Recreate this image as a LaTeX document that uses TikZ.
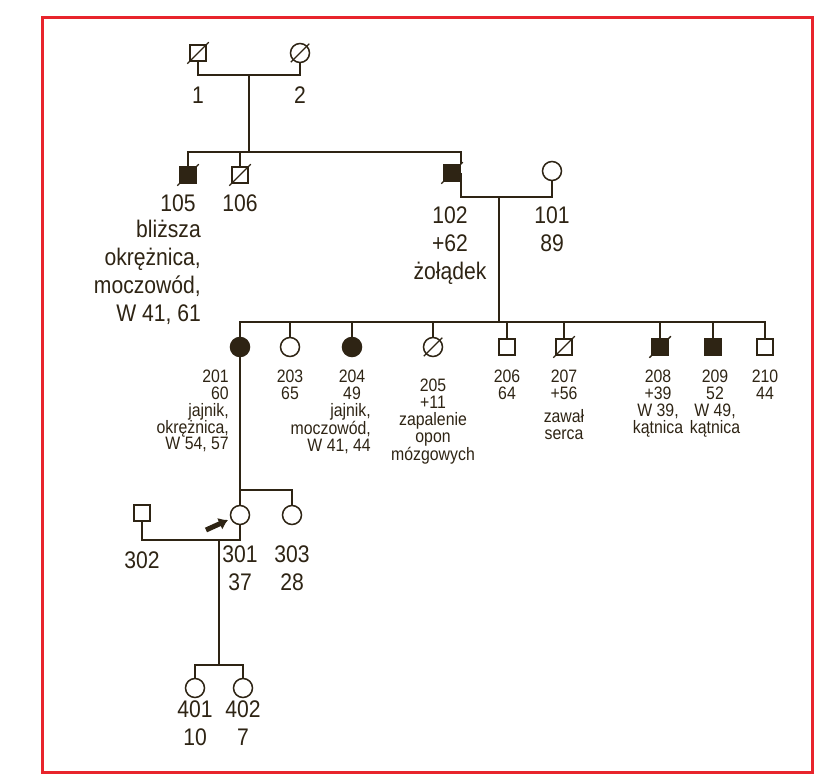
\documentclass[tikz,border=0pt]{standalone}
\usepackage{fontspec}
\setmainfont{Liberation Sans}
\newfontfamily\narrowsans[FakeStretch=0.88]{Liberation Sans}
\usetikzlibrary{arrows.meta}
\begin{document}
\begin{tikzpicture}[x=1pt,y=-1pt,
  ln/.style={line width=1.8pt,draw=ink},
  m/.style={rectangle,draw=ink,line width=1.5pt,minimum size=16pt,inner sep=0pt},
  f/.style={circle,draw=ink,line width=1.5pt,minimum size=19pt,inner sep=0pt},
  aff/.style={fill=ink},
  big/.style={text=ink,font=\narrowsans\fontsize{24}{28}\selectfont,inner sep=0pt,align=center},
  sm/.style={text=ink,font=\narrowsans\fontsize{18}{16.8}\selectfont,inner sep=0pt,align=center},
]
\definecolor{ink}{HTML}{2E2414}
\definecolor{frame}{HTML}{E8242C}
\useasboundingbox (0,0) rectangle (837,783);
\fill[white] (0,0) rectangle (837,783);
\draw[frame,line width=3pt] (42,18) rectangle (812,772);
\newcommand\dslash[1]{\draw[ink,line width=1.4pt] ([shift={(-2,2)}]#1.south west) -- ([shift={(2,-2)}]#1.north east);}
% Gen I
\node[m] (i1) at (198,53) {};
\node[f] (i2) at (300,53) {};
\dslash{i1}\dslash{i2}
\coordinate (mI) at (249,75);
\draw[ln] (i1.south) |- (mI) -| (i2.south);
\node[big] at (198,95) {1};
\node[big] at (300,95) {2};
% Gen II
\node[m,aff] (p105) at (188,175) {};
\node[m] (p106) at (240,175) {};
\node[m,aff] (p102) at (452,173) {};
\node[f] (p101) at (552,171) {};
\dslash{p105}\dslash{p106}\dslash{p102}
\coordinate (sII) at (249,152);
\draw[ln] (mI) -- (sII);
\draw[ln] (p105.north) |- (sII) -| (p102.north east);
\draw[ln] (p106.north) -- (p106.north |- sII);
\coordinate (mII) at (499,197);
\draw[ln] (p102.east) -- (p102.east |- mII) -- (mII) -| (p101.south);
\node[big] at (178,203) {105};
\node[big] at (240,203) {106};
\node[big,align=right,anchor=north east] at (201,220) {bliższa\\okrężnica,\\moczowód,\\W 41, 61};
\node[big,anchor=north] at (450,207) {102\\+62\\żołądek};
\node[big,anchor=north] at (552,207) {101\\89};
% Gen III
\coordinate (sIII) at (499,322);
\draw[ln] (mII) -- (sIII);
\node[f,aff] (p201) at (240,347) {};
\node[f] (p203) at (290,347) {};
\node[f,aff] (p204) at (352,347) {};
\node[f] (p205) at (433,347) {};
\node[m] (p206) at (507,347) {};
\node[m] (p207) at (564,347) {};
\node[m,aff] (p208) at (660,347) {};
\node[m,aff] (p209) at (713,347) {};
\node[m] (p210) at (765,347) {};
\dslash{p205}\dslash{p207}\dslash{p208}
\draw[ln] (p201.north) |- (sIII) -| (p210.north);
\foreach \n in {p203,p204,p205,p206,p207,p208,p209}
  \draw[ln] (\n.north) -- (\n.north |- sIII);
\node[sm,align=right,anchor=north east] at (229,370) {201\\60\\jajnik,\\okrężnica,\\W 54, 57};
\node[sm,anchor=north] at (290,370) {203\\65};
\node[sm,anchor=north] at (352,370) {204\\49};
\node[sm,align=right,anchor=north east] at (371,403) {jajnik,\\moczowód,\\W 41, 44};
\node[sm,anchor=north] at (433,379) {205\\+11\\zapalenie\\opon\\mózgowych};
\node[sm,anchor=north] at (507,370) {206\\64};
\node[sm,anchor=north] at (564,370) {207\\+56};
\node[sm,anchor=north] at (564,409) {zawał\\serca};
\node[sm,anchor=north] at (658,370) {208\\+39\\W 39,\\kątnica};
\node[sm,anchor=north] at (715,370) {209\\52\\W 49,\\kątnica};
\node[sm,anchor=north] at (765,370) {210\\44};
% Gen III-b
\node[m] (p302) at (142,513) {};
\node[f] (p301) at (240,515) {};
\node[f] (p303) at (292,515) {};
\coordinate (s3) at (240,490);
\draw[ln] (p201.south) -- (p301.north);
\draw[ln] (s3) -| (p303.north);
\coordinate (m3) at (219,540);
\draw[ln] (p302.south) |- (m3) -| (p301.south);
\node[big] at (142,560) {302};
\node[big,anchor=north] at (240,546) {301\\37};
\node[big,anchor=north] at (292,546) {303\\28};
\coordinate (arT) at (228,520);
\coordinate (arS) at (206,530);
\draw[ink,line width=5pt,-{Latex[length=9pt,width=13pt]}] (arS) -- (arT);
% Gen IV
\coordinate (s4) at (219,665);
\draw[ln] (m3) -- (s4);
\node[f] (p401) at (195,688) {};
\node[f] (p402) at (243,688) {};
\draw[ln] (p401.north) |- (s4) -| (p402.north);
\node[big,anchor=north] at (195,701) {401\\10};
\node[big,anchor=north] at (243,701) {402\\7};
\end{tikzpicture}
\end{document}
